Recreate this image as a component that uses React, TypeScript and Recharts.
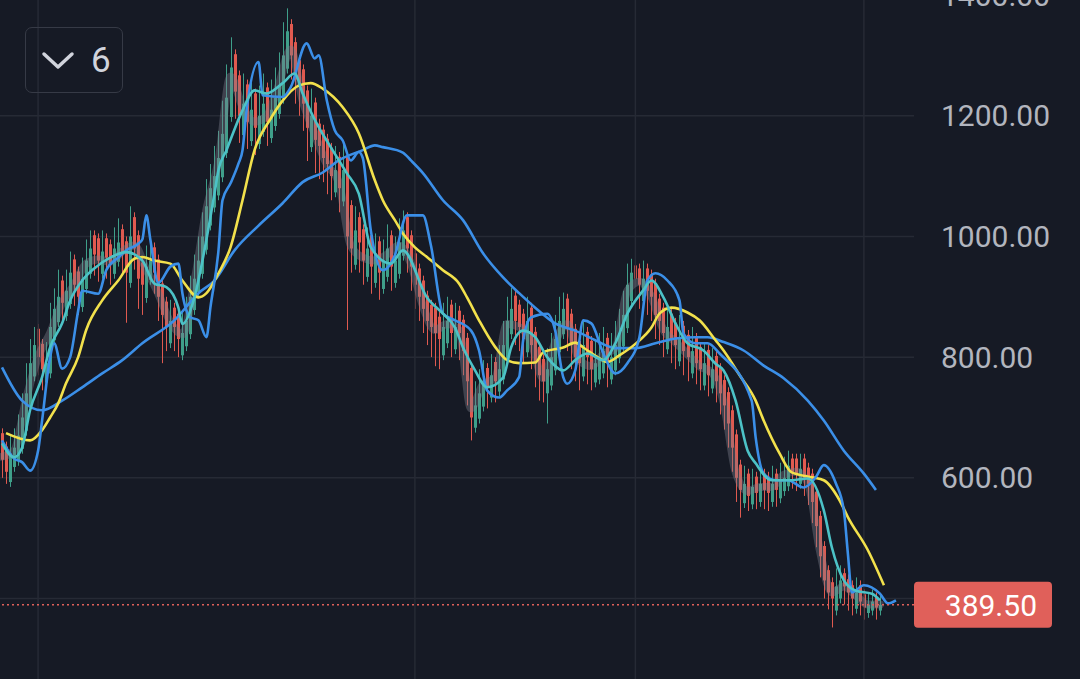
import { Bar, CartesianGrid, ComposedChart, Line, ReferenceLine, XAxis, YAxis } from "recharts";

// candles, one per slot
const OPENS = [
  674, 652, 593, 618, 628, 648, 678, 718, 768, 847,
  822, 758, 773, 828, 858, 927, 868, 888, 962, 942,
  883, 913, 938, 1002, 997, 938, 997, 987, 938, 958,
  1012, 992, 923, 1032, 1002, 957, 898, 928, 982, 962,
  922, 892, 823, 882, 872, 803, 818, 838, 878, 908,
  938, 978, 1018, 1048, 1068, 1098, 1138, 1198, 1302, 1267,
  1168, 1252, 1158, 1237, 1153, 1173, 1247, 1163, 1183, 1203,
  1228, 1278, 1352, 1322, 1292, 1277, 1242, 1148, 1222, 1187,
  1177, 1162, 1147, 1073, 1132, 1058, 1132, 1052, 953, 1032,
  1012, 933, 1002, 923, 992, 913, 933, 1002, 923, 938,
  968, 1032, 1002, 972, 947, 927, 902, 887, 882, 867,
  803, 823, 887, 813, 877, 862, 832, 782, 683, 698,
  718, 782, 733, 792, 743, 763, 798, 838, 902, 887,
  872, 808, 882, 842, 817, 797, 740, 753, 778, 808,
  838, 897, 872, 847, 827, 768, 842, 827, 758, 763,
  773, 832, 763, 778, 798, 818, 848, 893, 952, 947,
  893, 947, 937, 922, 897, 882, 813, 872, 857, 793,
  852, 837, 773, 832, 817, 753, 812, 748, 802, 782,
  762, 742, 712, 672, 622, 558, 607, 556, 602, 560,
  607, 602, 560, 607, 566, 578, 586, 632, 632, 590,
  632, 617, 607, 577, 537, 487, 447, 427, 380, 400,
  442, 432, 422, 383, 422, 407, 376, 380, 402, 380,
];
const CLOSES = [
  630, 610, 640, 650, 670, 700, 740, 790, 820, 800,
  780, 790, 850, 880, 900, 890, 910, 940, 920, 900,
  930, 960, 980, 970, 960, 975, 965, 955, 980, 990,
  970, 940, 1000, 980, 930, 920, 950, 960, 940, 900,
  870, 850, 860, 850, 830, 840, 860, 900, 930, 960,
  1000, 1050, 1080, 1100, 1130, 1170, 1230, 1280, 1240, 1200,
  1220, 1190, 1210, 1180, 1200, 1220, 1190, 1210, 1230, 1250,
  1300, 1340, 1300, 1260, 1250, 1220, 1180, 1200, 1160, 1150,
  1130, 1120, 1100, 1110, 1080, 1110, 1000, 980, 1010, 990,
  960, 980, 950, 970, 940, 960, 980, 950, 960, 990,
  1010, 980, 950, 920, 900, 880, 860, 850, 840, 830,
  850, 860, 840, 850, 840, 810, 760, 700, 720, 740,
  760, 750, 770, 760, 780, 820, 860, 880, 860, 850,
  830, 860, 820, 790, 770, 760, 780, 800, 830, 860,
  880, 850, 820, 800, 790, 820, 800, 780, 790, 800,
  810, 790, 800, 820, 840, 870, 920, 940, 930, 920,
  930, 910, 900, 870, 860, 840, 850, 830, 820, 830,
  810, 800, 810, 790, 780, 790, 770, 780, 760, 740,
  720, 690, 650, 600, 580, 590, 570, 585, 575, 590,
  580, 575, 590, 580, 595, 600, 620, 610, 605, 615,
  600, 590, 560, 520, 470, 430, 410, 400, 420, 430,
  420, 410, 400, 410, 395, 385, 390, 395, 385, 389.5,
];
const HIGHS = [
  682, 660, 670, 682, 705, 740, 790, 830, 850, 855,
  830, 825, 890, 914, 945, 935, 945, 975, 970, 950,
  965, 995, 1010, 1010, 1005, 1010, 1005, 995, 1015, 1030,
  1020, 1000, 1050, 1040, 1010, 965, 985, 995, 990, 970,
  930, 900, 895, 890, 880, 875, 900, 935, 970, 1000,
  1040, 1095, 1120, 1150, 1175, 1225, 1285, 1330, 1310, 1275,
  1270, 1260, 1255, 1245, 1250, 1270, 1255, 1260, 1280, 1305,
  1355, 1378, 1360, 1330, 1300, 1285, 1250, 1245, 1230, 1195,
  1185, 1170, 1155, 1150, 1140, 1155, 1140, 1060, 1050, 1040,
  1020, 1015, 1010, 1005, 1000, 995, 1020, 1010, 1000, 1030,
  1043, 1040, 1010, 980, 955, 935, 910, 895, 890, 875,
  890, 900, 895, 890, 885, 870, 840, 790, 760, 780,
  795, 790, 805, 800, 820, 860, 900, 915, 910, 895,
  880, 900, 890, 850, 825, 805, 815, 840, 870, 900,
  907, 905, 880, 855, 835, 860, 850, 835, 830, 840,
  850, 840, 840, 860, 880, 910, 955, 963, 960, 955,
  960, 955, 945, 930, 905, 890, 885, 880, 865, 870,
  860, 845, 850, 840, 825, 825, 820, 815, 810, 790,
  770, 750, 720, 680, 630, 620, 615, 615, 610, 620,
  615, 610, 620, 615, 625, 635, 645, 640, 640, 640,
  640, 625, 615, 585, 545, 495, 455, 435, 450, 455,
  450, 440, 430, 435, 430, 415, 410, 415, 410, 405,
];
const LOWS = [
  600, 590, 585, 610, 620, 640, 670, 710, 760, 770,
  745, 750, 765, 820, 850, 855, 860, 880, 885, 870,
  875, 905, 930, 935, 925, 930, 930, 920, 930, 950,
  935, 857, 915, 945, 880, 870, 890, 920, 905, 860,
  790, 810, 815, 810, 800, 795, 810, 830, 870, 900,
  930, 970, 1010, 1040, 1060, 1090, 1130, 1190, 1195, 1155,
  1160, 1145, 1150, 1135, 1145, 1165, 1150, 1155, 1175, 1195,
  1220, 1270, 1260, 1220, 1200, 1175, 1125, 1140, 1105, 1095,
  1090, 1070, 1060, 1065, 1040, 1050, 845, 940, 945, 940,
  920, 925, 905, 915, 895, 905, 925, 910, 915, 930,
  960, 940, 910, 880, 860, 840, 820, 800, 785, 780,
  795, 815, 800, 805, 795, 770, 720, 662, 675, 690,
  710, 715, 725, 725, 735, 755, 790, 830, 820, 810,
  790, 800, 780, 750, 728, 725, 690, 745, 770, 800,
  830, 810, 780, 760, 745, 760, 755, 745, 750, 755,
  765, 750, 755, 770, 790, 810, 840, 885, 890, 880,
  885, 870, 860, 830, 820, 800, 805, 790, 780, 785,
  770, 760, 765, 755, 745, 745, 735, 740, 725, 705,
  680, 650, 610, 560, 534, 550, 545, 548, 548, 552,
  548, 545, 552, 552, 558, 570, 578, 582, 578, 582,
  570, 555, 525, 485, 435, 400, 382, 352, 372, 392,
  390, 380, 372, 375, 372, 365, 368, 372, 365, 372,
];

// indicator lines, [slot, value] read at intervals
const GRAY_BAND: [number, number][] = [
  [0, 635], [3, 645], [6, 730], [9, 800], [12, 840], [15, 890], [18, 920], [21, 955],
  [24, 962], [27, 958], [30, 975], [33, 985], [36, 945], [39, 905], [42, 858], [45, 838],
  [48, 925], [51, 1045], [54, 1125], [57, 1265], [60, 1215], [63, 1190], [66, 1200],
  [69, 1250], [72, 1310], [75, 1225], [78, 1170], [81, 1120], [84, 1090], [87, 985],
  [90, 965], [93, 960], [96, 970], [99, 985], [102, 955], [105, 885], [108, 845],
  [111, 855], [114, 845], [117, 715], [120, 755], [123, 765], [126, 855], [129, 850],
  [132, 825], [135, 765], [138, 825], [141, 855], [144, 795], [147, 785], [150, 805],
  [153, 815], [156, 910], [159, 925], [162, 900], [165, 845], [168, 825], [171, 805],
  [174, 785], [177, 775], [180, 725], [183, 610], [186, 578], [189, 585], [192, 585],
  [195, 605], [198, 610], [201, 592], [204, 480], [207, 410], [210, 420], [213, 405],
  [216, 390], [219, 390],
];
const CYAN_MA: [number, number][] = [
  [0, 657], [3, 634], [5, 650], [7, 712], [10, 767], [12, 816], [15, 856], [17, 894],
  [20, 927], [23, 947], [27, 965], [31, 974], [35, 960], [38, 922], [41, 916], [44, 882],
  [45, 855], [48, 899], [50, 960], [53, 1071], [54, 1110], [56, 1143], [60, 1209],
  [63, 1242], [66, 1237], [70, 1254], [73, 1270], [75, 1237], [79, 1181], [82, 1148],
  [86, 1105], [89, 1071], [92, 982], [97, 955], [100, 977], [106, 899], [110, 872],
  [113, 849], [115, 816], [118, 778], [121, 750], [125, 766], [127, 816], [130, 844],
  [133, 833], [136, 800], [140, 778], [143, 795], [146, 806], [150, 795], [153, 823],
  [156, 872], [160, 911], [162, 927], [165, 899], [168, 856], [171, 823], [175, 811],
  [178, 789], [180, 778], [183, 728], [186, 645], [188, 624], [192, 596], [197, 596],
  [201, 599], [205, 546], [207, 485], [210, 430], [213, 413], [217, 408], [219, 397],
];
const FAST_MA: [number, number][] = [
  [0, 662], [3, 632], [5, 626], [7, 612], [9, 645], [10, 695], [12, 800], [13, 823],
  [15, 781], [17, 800], [19, 877], [20, 910], [24, 905], [26, 944], [29, 965], [31, 977],
  [34, 988], [35, 995], [36, 1035], [37, 995], [39, 923], [42, 950], [44, 955], [45, 906],
  [47, 866], [49, 861], [51, 833], [52, 883], [54, 977], [55, 1060], [57, 1088],
  [59, 1121], [60, 1143], [61, 1209], [64, 1289], [65, 1234], [70, 1231], [72, 1247],
  [76, 1320], [78, 1295], [79, 1300], [81, 1226], [83, 1176], [85, 1159], [87, 1126],
  [89, 1140], [90, 1130], [92, 1010], [95, 944], [98, 969], [101, 1035], [105, 1035],
  [107, 985], [110, 872], [113, 861], [117, 844], [119, 811], [121, 745], [124, 733],
  [126, 745], [129, 767], [130, 828], [132, 866], [136, 872], [138, 844], [140, 767],
  [141, 756], [143, 778], [145, 861], [147, 856], [150, 806], [153, 773], [156, 790],
  [159, 833], [161, 927], [163, 939], [166, 927], [169, 894], [170, 839], [173, 823],
  [176, 823], [179, 806], [187, 728], [188, 667], [190, 607], [193, 596], [196, 596],
  [200, 584], [203, 601], [205, 621], [208, 591], [210, 546], [211, 475], [212, 410],
  [215, 422], [219, 408], [221, 392], [223, 397],
];
const YELLOW_MA: [number, number][] = [
  [1, 674], [7, 662], [10, 679], [12, 700], [14, 723], [16, 757], [19, 800], [21, 845],
  [25, 894], [29, 927], [33, 963], [35, 966], [38, 960], [42, 955], [45, 927], [49, 899],
  [51, 906], [54, 939], [57, 982], [60, 1060], [63, 1143], [67, 1195], [70, 1225],
  [74, 1250], [77, 1254], [80, 1245], [85, 1214], [89, 1171], [93, 1093], [95, 1060],
  [98, 1027], [100, 1005], [103, 982], [106, 966], [110, 944], [114, 922], [116, 899],
  [119, 861], [123, 817], [126, 795], [129, 790], [133, 791], [135, 808], [140, 816],
  [143, 824], [145, 816], [149, 798], [151, 792], [154, 803], [158, 822], [162, 849],
  [164, 872], [167, 882], [171, 874], [174, 861], [178, 828], [180, 811], [184, 770],
  [188, 728], [190, 695], [194, 640], [197, 609], [202, 601], [205, 596], [209, 562],
  [211, 535], [216, 480], [220, 422],
];
const SLOW_MA: [number, number][] = [
  [0, 783], [5, 728], [10, 712], [15, 728], [20, 750], [25, 773], [30, 795], [35, 823],
  [43, 861], [49, 906], [53, 927], [58, 977], [64, 1018], [70, 1055], [75, 1090],
  [80, 1106], [84, 1126], [90, 1143], [93, 1151], [95, 1148], [100, 1139], [102, 1126],
  [105, 1105], [110, 1060], [115, 1027], [120, 972], [125, 932], [129, 906], [133, 882],
  [138, 856], [143, 844], [148, 828], [153, 815], [158, 815], [163, 823], [168, 831],
  [173, 833], [176, 833], [180, 825], [185, 811], [190, 786], [195, 765], [201, 728],
  [205, 695], [210, 645], [215, 607], [218, 580],
];

const SLOTS = 228;
const Y_TICKS = [400, 600, 800, 1000, 1200, 1400];
const SESSION_BREAKS = [9, 103, 158, 215];
const LAST_PRICE = 389.5;
const INTERVAL_LABEL = "6";

const BG = "#161a25";
const GRID = "#262a35";
const UP = "#3f9f8a";
const DOWN = "#e05a50";
const TAG = "#e0605a";

type Row = {
  i: number;
  range?: [number, number];
  open?: number;
  close?: number;
  gray?: number;
  cyan?: number;
  fast?: number;
  yellow?: number;
  slow?: number;
};

const rows: Row[] = Array.from({ length: SLOTS }, (_, i) =>
  i < CLOSES.length
    ? { i, range: [LOWS[i], HIGHS[i]], open: OPENS[i], close: CLOSES[i] }
    : { i }
);

function place(key: keyof Row, points: [number, number][]) {
  for (const [i, v] of points) (rows[i] as any)[key] = v;
}
place("gray", GRAY_BAND);
place("cyan", CYAN_MA);
place("fast", FAST_MA);
place("yellow", YELLOW_MA);
place("slow", SLOW_MA);

function Candle(props: any) {
  const { x, y, width, height, payload } = props;
  if (!payload || !payload.range || !Number.isFinite(y) || !Number.isFinite(height)) return null;
  const [low, high] = payload.range;
  const top = Math.min(y, y + height);
  const bottom = Math.max(y, y + height);
  const toPx = (v: number) => (high === low ? top : top + ((high - v) / (high - low)) * (bottom - top));
  const color = payload.close >= payload.open ? UP : DOWN;
  // snap to whole pixels so the thin bodies stay crisp
  const left = Math.round(x);
  const w = Math.max(2, Math.round(width));
  const cx = left + w / 2;
  const bodyTop = toPx(Math.max(payload.open, payload.close));
  const bodyBottom = toPx(Math.min(payload.open, payload.close));
  return (
    <g>
      <line x1={cx} x2={cx} y1={top} y2={bottom} stroke={color} strokeWidth={1} />
      <rect x={left} y={bodyTop} width={w} height={Math.max(1, bodyBottom - bodyTop)} fill={color} />
    </g>
  );
}

function PriceTick({ x, y, payload }: any) {
  // the 400 label sits under the last-price tag
  if (payload.value === 400) return <g />;
  return (
    <text x={x} y={y} dy="0.355em" textAnchor="start" fill="#b2b5be" fontSize={30} fontFamily="Roboto, sans-serif">
      {Number(payload.value).toFixed(2)}
    </text>
  );
}

function PriceTag({ viewBox }: any) {
  if (!viewBox) return null;
  const left = viewBox.x + viewBox.width;
  const cy = viewBox.y;
  return (
    <g>
      <rect x={left} y={cy - 23} width={138} height={46} rx={4} fill={TAG} />
      <text x={left + 123} y={cy} dy="0.355em" textAnchor="end" fill="#ffffff" fontSize={30} fontFamily="Roboto, sans-serif">
        {LAST_PRICE.toFixed(2)}
      </text>
    </g>
  );
}

const lineProps = {
  type: "monotone" as const,
  strokeWidth: 2.6,
  dot: false,
  activeDot: false,
  connectNulls: true,
  isAnimationActive: false,
};

export default function App() {
  return (
    <div style={{ position: "fixed", left: 0, top: 0, width: 1080, height: 679, overflow: "hidden", background: BG }}>
      <div style={{ position: "absolute", left: 0, top: -17 }}>
        <ComposedChart width={1080} height={700} data={rows} margin={{ top: 0, right: 0, bottom: 0, left: 0 }}>
          <CartesianGrid vertical={false} stroke={GRID} strokeWidth={1.5} />
          <XAxis dataKey="i" hide />
          <YAxis
            orientation="right"
            width={166}
            domain={[260, 1420]}
            allowDataOverflow
            ticks={Y_TICKS}
            tick={<PriceTick />}
            tickLine={false}
            axisLine={false}
            tickSize={0}
            tickMargin={27}
          />
          {SESSION_BREAKS.map((b) => (
            <ReferenceLine key={b} x={b} stroke={GRID} strokeWidth={1.5} />
          ))}
          <Line
            dataKey="gray"
            type="monotone"
            stroke="rgba(125,128,140,0.4)"
            strokeWidth={8}
            strokeLinejoin="round"
            strokeLinecap="round"
            dot={false}
            activeDot={false}
            connectNulls
            isAnimationActive={false}
          />
          <Bar dataKey="range" barSize={3} shape={<Candle />} isAnimationActive={false} />
          <Line dataKey="slow" stroke="#3b8fe8" {...lineProps} />
          <Line dataKey="yellow" stroke="#f2e14c" {...lineProps} />
          <Line dataKey="fast" stroke="#3b8fe8" {...lineProps} />
          <Line dataKey="cyan" stroke="#4cc2c7" {...lineProps} />
          <ReferenceLine y={LAST_PRICE} stroke={TAG} strokeWidth={1.5} strokeDasharray="2 3" label={<PriceTag />} />
        </ComposedChart>
      </div>
      <div
        style={{
          position: "absolute",
          left: 25,
          top: 27,
          width: 98,
          height: 66,
          boxSizing: "border-box",
          border: "1.5px solid #363a46",
          borderRadius: 7,
          display: "flex",
          alignItems: "center",
          fontFamily: "Roboto, sans-serif",
          color: "#d1d4dc",
        }}
      >
        <svg width={40} height={30} style={{ marginLeft: 14 }}>
          <polyline points="4,9 18,22 32,9" fill="none" stroke="#d1d4dc" strokeWidth={3.5} strokeLinecap="round" strokeLinejoin="round" />
        </svg>
        <span style={{ fontSize: 35, marginLeft: 11, lineHeight: 1 }}>{INTERVAL_LABEL}</span>
      </div>
    </div>
  );
}
